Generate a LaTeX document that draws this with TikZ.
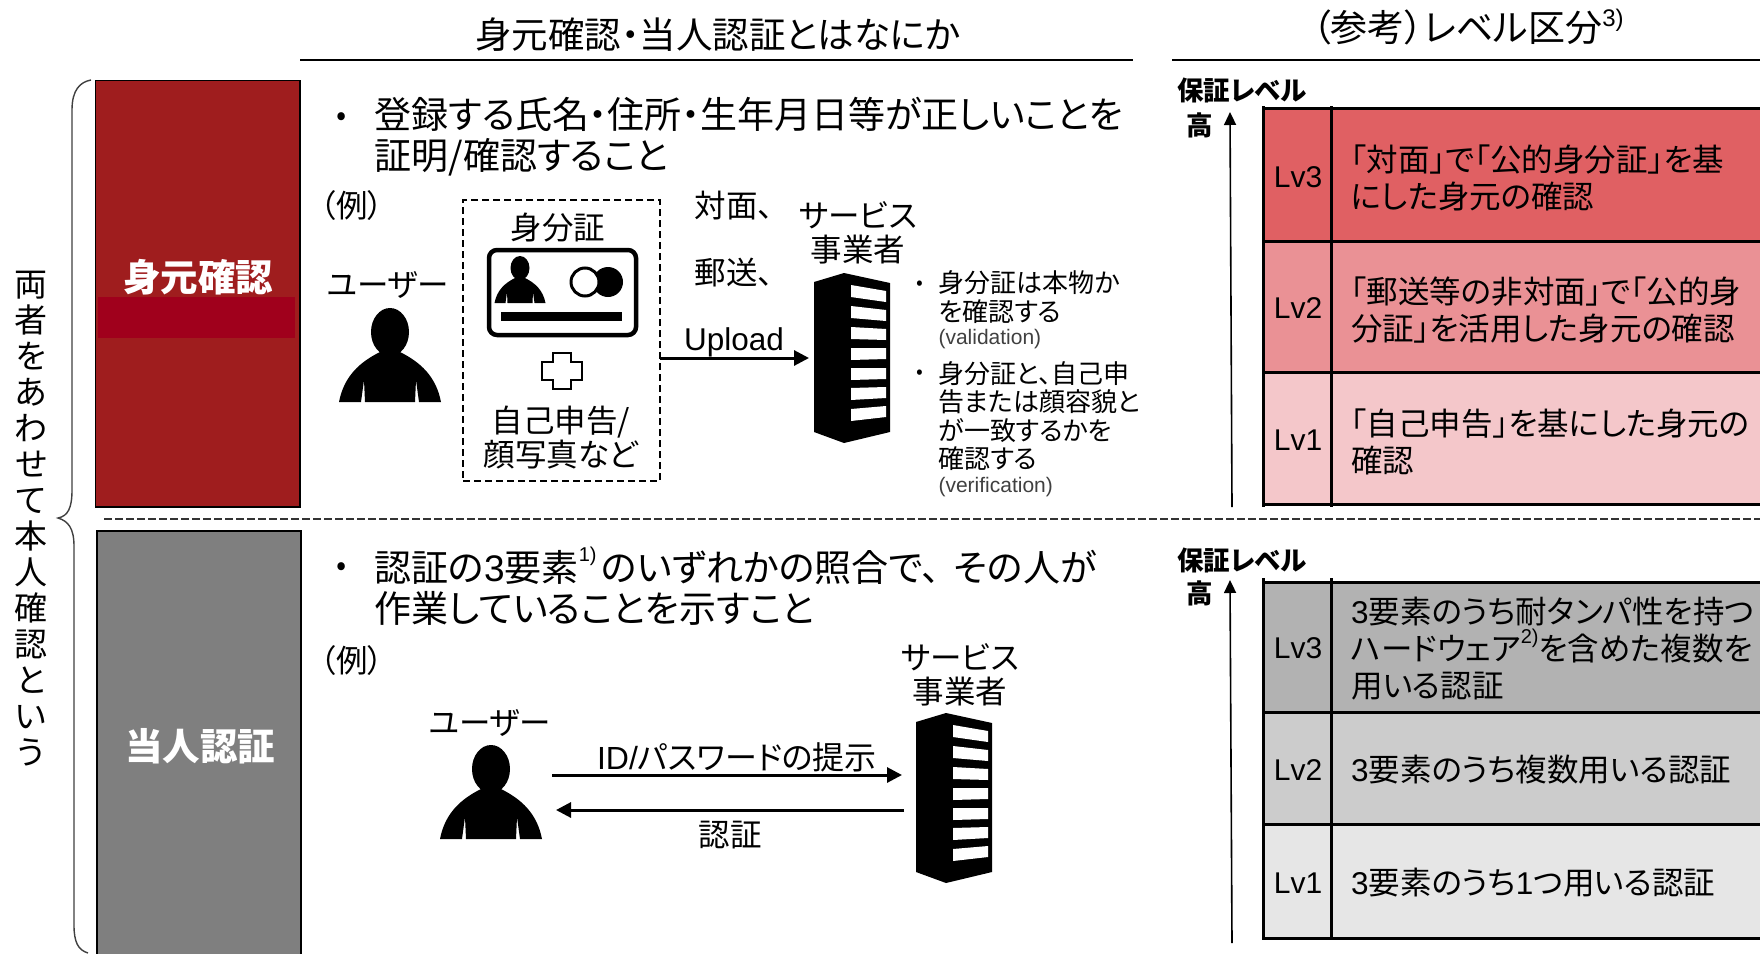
\documentclass[tikz,border=0pt]{standalone}
\usepackage{fontspec}
\setmainfont{Noto Sans CJK JP}[RawFeature=+palt]
\newfontfamily\enfont{Liberation Sans}
\usetikzlibrary{arrows.meta}
\newcommand{\lat}[1]{{\enfont #1}}
\newcommand{\upnote}[3][0.55em]{\raisebox{#1}{\enfont\fontsize{#2}{#2}\selectfont #3}}
\definecolor{idred}{HTML}{9F1D1E}
\definecolor{idband}{HTML}{A0001C}
\definecolor{redhi}{HTML}{E06063}
\definecolor{redmid}{HTML}{EA9195}
\definecolor{redlo}{HTML}{F4C7CA}
\definecolor{grayhi}{HTML}{B2B2B2}
\definecolor{graymid}{HTML}{CCCCCC}
\definecolor{graylo}{HTML}{E6E6E6}
\definecolor{sidegray}{HTML}{7F7F7F}
\tikzset{
  titletxt/.style={font=\fontsize{36.5}{40}\selectfont},
  bodytxt/.style={anchor=west,align=left,font=\fontsize{37}{41}\selectfont},
  labeltxt/.style={font=\fontsize{31.5}{34}\selectfont},
  smalltxt/.style={anchor=west,align=left,font=\fontsize{26}{28.5}\selectfont},
  rowtxt/.style={anchor=west,align=left,font=\fontsize{31.5}{37}\selectfont},
  lvtxt/.style={font=\enfont\fontsize{30}{34}\selectfont},
  scaletxt/.style={font=\bfseries\fontsize{26.5}{28}\selectfont},
  sidetxt/.style={text=white,font=\bfseries\fontsize{37.5}{40}\selectfont},
  blank/.style={inner sep=0pt,outer sep=0pt},
  rowbox/.style={draw=black,line width=3pt},
  flowarrow/.style={black,line width=3pt,-{Triangle[length=15pt,width=15pt]}},
  scalearrow/.style={black,line width=1.6pt,-{Triangle[length=13pt,width=12pt]}},
  personicon/.pic={
    \fill[black] (0,22) ellipse (19 and 24);
    \fill[black] (-51,92) .. controls (-46,66) and (-30,52) .. (-10,42) -- (10,42)
      .. controls (30,52) and (46,66) .. (51,92) -- (29,92) -- (26,70) -- (25,92)
      -- (-25,92) -- (-26,70) -- (-29,92) -- cycle;
  },
  servericon/.pic={
    \fill[black] (-30,9) -- (0,0) -- (46,10) -- (46,159) -- (0,170) -- (-30,159) -- cycle;
    \foreach \ya/\yb in {12/18,33/37,54/56,75/75,95/95,115/114,136/133}
      \fill[white] (7,\ya) -- (42,\yb) -- (42,\yb+11) -- (7,\ya+12) -- cycle;
  }
}
\begin{document}
\begin{tikzpicture}[x=1pt,y=-1pt]
\path[use as bounding box,clip] (0,0) rectangle (1760,953);
\fill[white] (0,0) rectangle (1760,953);
\node[titletxt] (titleA) at (718,35) {身元確認・当人認証とはなにか};
\node[titletxt,font=\fontsize{37}{40}\selectfont] (titleB) at (1468,27) {（参考）レベル区分\upnote[0.4em]{24}{3)}};
\draw[black,line width=1.4pt] (300,60) -- (1133,60);
\draw[black,line width=1.4pt] (1172,60) -- (1760,60);
\draw[black!75,line width=1.4pt] (91,80) .. controls (80,82) and (72,90) .. (72,110) -- (72,490)
  .. controls (72,508) and (68,516) .. (58,518) .. controls (68,521) and (74,528) .. (74,546)
  -- (74,925) .. controls (74,942) and (78,950) .. (88,953);
\node[align=center,font=\fontsize{33}{36}\selectfont] (bothtxt) at (31,519) {両\\者\\を\\あ\\わ\\せ\\て\\本\\人\\確\\認\\と\\い\\う};
\draw[black,line width=1.4pt,fill=idred] (95.5,80.5) rectangle (300,507);
\fill[idband] (98,297) rectangle (295,338);
\node[sidetxt] (idname) at (198,277) {身元確認};
\draw[black,line width=1.4pt,fill=sidegray] (97,531) rectangle (301,970);
\node[sidetxt] (authname) at (200,746) {当人認証};
\draw[black!80,line width=2pt,dash pattern=on 8pt off 3pt] (104,518.5) -- (1760,518.5);
\node[font=\fontsize{30}{30}\selectfont] (bulA) at (342,119) {•};
\node[bodytxt] (bodyA) at (371,137) {登録する氏名・住所・生年月日等が正しいことを\\証明/確認すること};
\node[labeltxt] (exA) at (352,206) {（例）};
\node[labeltxt] (userAname) at (388,285) {ユーザー};
\pic at (390,310) {personicon};
\node[draw=black,dash pattern=on 7pt off 4pt,line width=1.6pt,blank,minimum width=197pt,minimum height=281pt] (idbox) at (561.5,340.5) {};
\node[labeltxt] (cardname) at (558,228) {身分証};
\draw[black,line width=4.5pt,rounded corners=8pt] (489,250) rectangle (636,335);
\pic[scale=.5] at (520,257) {personicon};
\fill[black] (608,282) circle (15);
\draw[black,line width=3pt,fill=white] (585,282) circle (14);
\fill[black] (501,312) rectangle (622,321);
\draw[black,line width=1.5pt,fill=white] (553,353) -- (571,353) -- (571,362) -- (582,362) -- (582,380) -- (571,380) -- (571,389) -- (553,389) -- (553,380) -- (542,380) -- (542,362) -- (553,362) -- cycle;
\node[labeltxt,align=center] (selfname) at (561,438) {自己申告/\\顔写真など};
\node[labeltxt] (wayA) at (691,206) [anchor=west] {対面、};
\node[labeltxt] (wayB) at (691,273) [anchor=west] {郵送、};
\node[lvtxt,font=\enfont\fontsize{31.5}{34}\selectfont] (upname) at (734,342) {Upload};
\node[labeltxt,align=center] (srvAname) at (858,233) {サービス\\事業者};
\pic at (844,273) {servericon};
\node[blank,minimum width=76pt,minimum height=170pt] (srvA) at (852,358) {};
\draw[flowarrow,shorten >=5pt] (srvA.west -| idbox.east) -- (srvA.west);
\node[font=\fontsize{20}{20}\selectfont] (bulB) at (920,285) {•};
\node[smalltxt] (noteA) at (935,310) {身分証は本物か\\を確認する\\[-5pt]{\enfont\color{black!75}\fontsize{21}{24}\selectfont (validation)}};
\node[font=\fontsize{20}{20}\selectfont] (bulC) at (920,374) {•};
\node[smalltxt] (noteB) at (935,429) {身分証と、自己申\\告または顔容貌と\\が一致するかを\\確認する\\[-5pt]{\enfont\color{black!75}\fontsize{21}{24}\selectfont (verification)}};
\node[scaletxt] (scaleA) at (1242,90) {保証レベル};
\node[scaletxt] (highA) at (1200,125) {高};
\draw[scalearrow] (1232,507) -- (1230,112);
\draw[rowbox,fill=redhi] (1263,108) rectangle (1780,241);
\draw[rowbox,fill=redmid] (1263,241) rectangle (1780,372);
\draw[rowbox,fill=redlo] (1263,372) rectangle (1780,504);
\draw[black,line width=3pt] (1263,106) -- (1263,507);
\draw[black,line width=3pt] (1331,106) -- (1331,507);
\node[lvtxt] (lvA3) at (1298,177) {Lv3};
\node[lvtxt] (lvA2) at (1298,308) {Lv2};
\node[lvtxt] (lvA1) at (1298,440) {Lv1};
\node[rowtxt] (rowA3) at (1347.5,178) {「対面」で「公的身分証」を基\\にした身元の確認};
\node[rowtxt] (rowA2) at (1347.5,310) {「郵送等の非対面」で「公的身\\分証」を活用した身元の確認};
\node[rowtxt] (rowA1) at (1347.5,442) {「自己申告」を基にした身元の\\確認};
\node[font=\fontsize{30}{30}\selectfont] (bulD) at (342,569) {•};
\node[bodytxt] (bodyB) at (371,586) {認証の\lat{3}要素\upnote{20}{1)}\hspace{5pt}のいずれかの照合で、\hspace{14pt}その人が\\作業していることを示すこと};
\node[labeltxt] (exB) at (352,661) {（例）};
\node[labeltxt,align=center] (srvBname) at (960,675) {サービス\\事業者};
\pic at (946,713) {servericon};
\node[blank,minimum width=76pt,minimum height=170pt] (srvB) at (954,798) {};
\node[labeltxt] (userBname) at (490,723) {ユーザー};
\pic at (491,747) {personicon};
\node[blank,minimum width=102pt,minimum height=92pt] (userB) at (491,793) {};
\node[labeltxt,font=\fontsize{32}{34}\selectfont] (sendname) at (737,757) {\lat{ID/}パスワードの提示};
\node[labeltxt] (backname) at (730,835) {認証};
\draw[flowarrow,shorten <=10pt,shorten >=14pt] ([yshift=18pt]userB.east) -- ([yshift=23pt]srvB.west);
\draw[flowarrow,shorten <=12pt,shorten >=14pt] ([yshift=-12pt]srvB.west) -- ([yshift=-17pt]userB.east);
\node[scaletxt] (scaleB) at (1242,560) {保証レベル};
\node[scaletxt] (highB) at (1200,593) {高};
\draw[scalearrow] (1232,943) -- (1230,580);
\draw[rowbox,fill=grayhi] (1263,582) rectangle (1780,712);
\draw[rowbox,fill=graymid] (1263,712) rectangle (1780,824);
\draw[rowbox,fill=graylo] (1263,824) rectangle (1780,938);
\draw[black,line width=3pt] (1263,578) -- (1263,939);
\draw[black,line width=3pt] (1331,578) -- (1331,939);
\node[lvtxt] (lvB3) at (1298,648) {Lv3};
\node[lvtxt] (lvB2) at (1298,770) {Lv2};
\node[lvtxt] (lvB1) at (1298,883) {Lv1};
\node[rowtxt] (rowB3) at (1347.5,649) {\lat{3}要素のうち耐タンパ性を持つ\\ハードウェア\upnote{20}{2)}を含めた複数を\\用いる認証};
\node[rowtxt] (rowB2) at (1347.5,770) {\lat{3}要素のうち複数用いる認証};
\node[rowtxt] (rowB1) at (1347.5,883) {\lat{3}要素のうち\lat{1}つ用いる認証};
\end{tikzpicture}
\end{document}
